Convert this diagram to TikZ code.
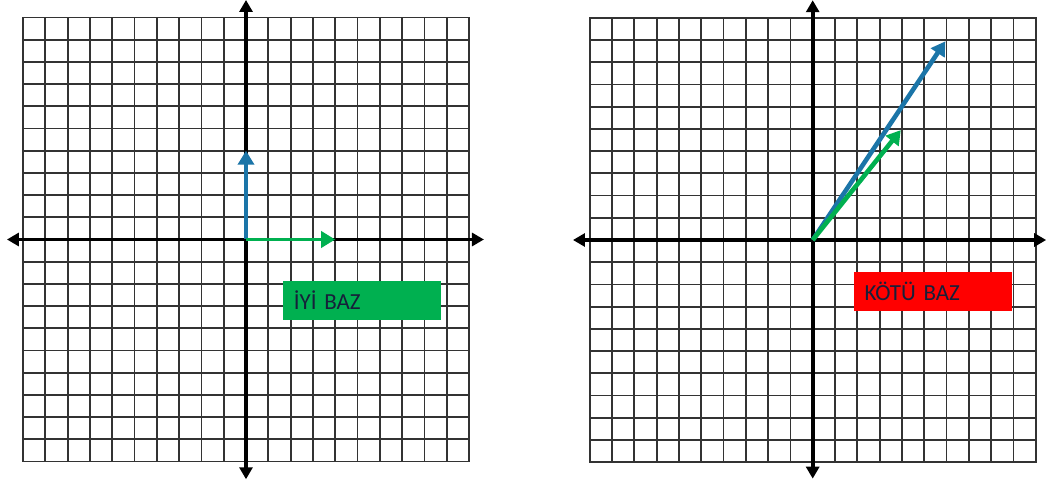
\documentclass[tikz,border=0pt]{standalone}
\usepackage{fontspec}
\setmainfont{Carlito}
\usetikzlibrary{arrows.meta}
\definecolor{vblue}{RGB}{27,117,168}
\definecolor{vgreen}{RGB}{0,176,80}
\definecolor{lred}{RGB}{255,0,0}
\definecolor{ltext}{RGB}{22,32,58}
\tikzset{
  gridline/.style={line width=1.8pt, black!80, line cap=rect},
  axisline/.style={line width=3.8pt, black,
    {Triangle[length=12pt,width=13pt]}-{Triangle[length=12pt,width=13pt]}},
  vec/.style={line width=4.6pt, -{Triangle[length=14pt,width=16pt]}},
  labelbox/.style={rectangle, anchor=north west, text=ltext,
    font=\fontsize{23pt}{27pt}\selectfont,
    text width=136pt, align=left, inner xsep=11pt, inner ysep=0pt,
    minimum height=38.6pt}
}
\begin{document}
\begin{tikzpicture}[x=1pt,y=-1pt]
\useasboundingbox (0,0) rectangle (1046,486);
\fill[white] (0,0) rectangle (1046,486);
\coordinate (O1) at (246,239.5);
\coordinate (O2) at (812.7,240);
% left grid
\begin{scope}[shift={(O1)}, x=22.3pt, y=22.2pt]
  \foreach \i in {-10,...,10} {
    \draw[gridline] (\i,-10) -- (\i,10);
    \draw[gridline] (-10,\i) -- (10,\i);
  }
  \coordinate (L1w) at (-10.72,0);
  \coordinate (L1e) at (10.67,0);
  \coordinate (L1n) at (0,10.79);
  \coordinate (L1s) at (0,-10.8);
  \draw[axisline] (L1w) -- (L1e);
  \draw[axisline] (L1s) -- (L1n);
  \coordinate (b1) at (0,4);
  \coordinate (g1) at (4,0);
  \draw[vec, vblue] (O1) -- (b1);
  \draw[vec, vgreen, line width=3.6pt] (O1) -- (g1);
\end{scope}
% right grid
\begin{scope}[shift={(O2)}, x=22.3pt, y=22.2pt]
  \foreach \i in {-10,...,10} {
    \draw[gridline] (\i,-10) -- (\i,10);
    \draw[gridline] (-10,\i) -- (10,\i);
  }
  \coordinate (L2w) at (-10.75,0);
  \coordinate (L2e) at (10.47,0);
  \coordinate (L2n) at (0,10.8);
  \coordinate (L2s) at (0,-10.75);
  \draw[axisline] (L2w) -- (L2e);
  \draw[axisline] (L2s) -- (L2n);
  \coordinate (b2) at (5.95,8.95);
  \coordinate (g2) at (3.95,4.95);
  \draw[vec, vblue] (O2) -- (b2);
  \draw[vec, vgreen] (O2) -- (g2);
\end{scope}
\node[labelbox, fill=vgreen] (good) at (282.7,280.7) {İYİ BAZ};
\node[labelbox, fill=lred] (bad) at (853.3,272) {KÖTÜ BAZ};
\end{tikzpicture}
\end{document}
